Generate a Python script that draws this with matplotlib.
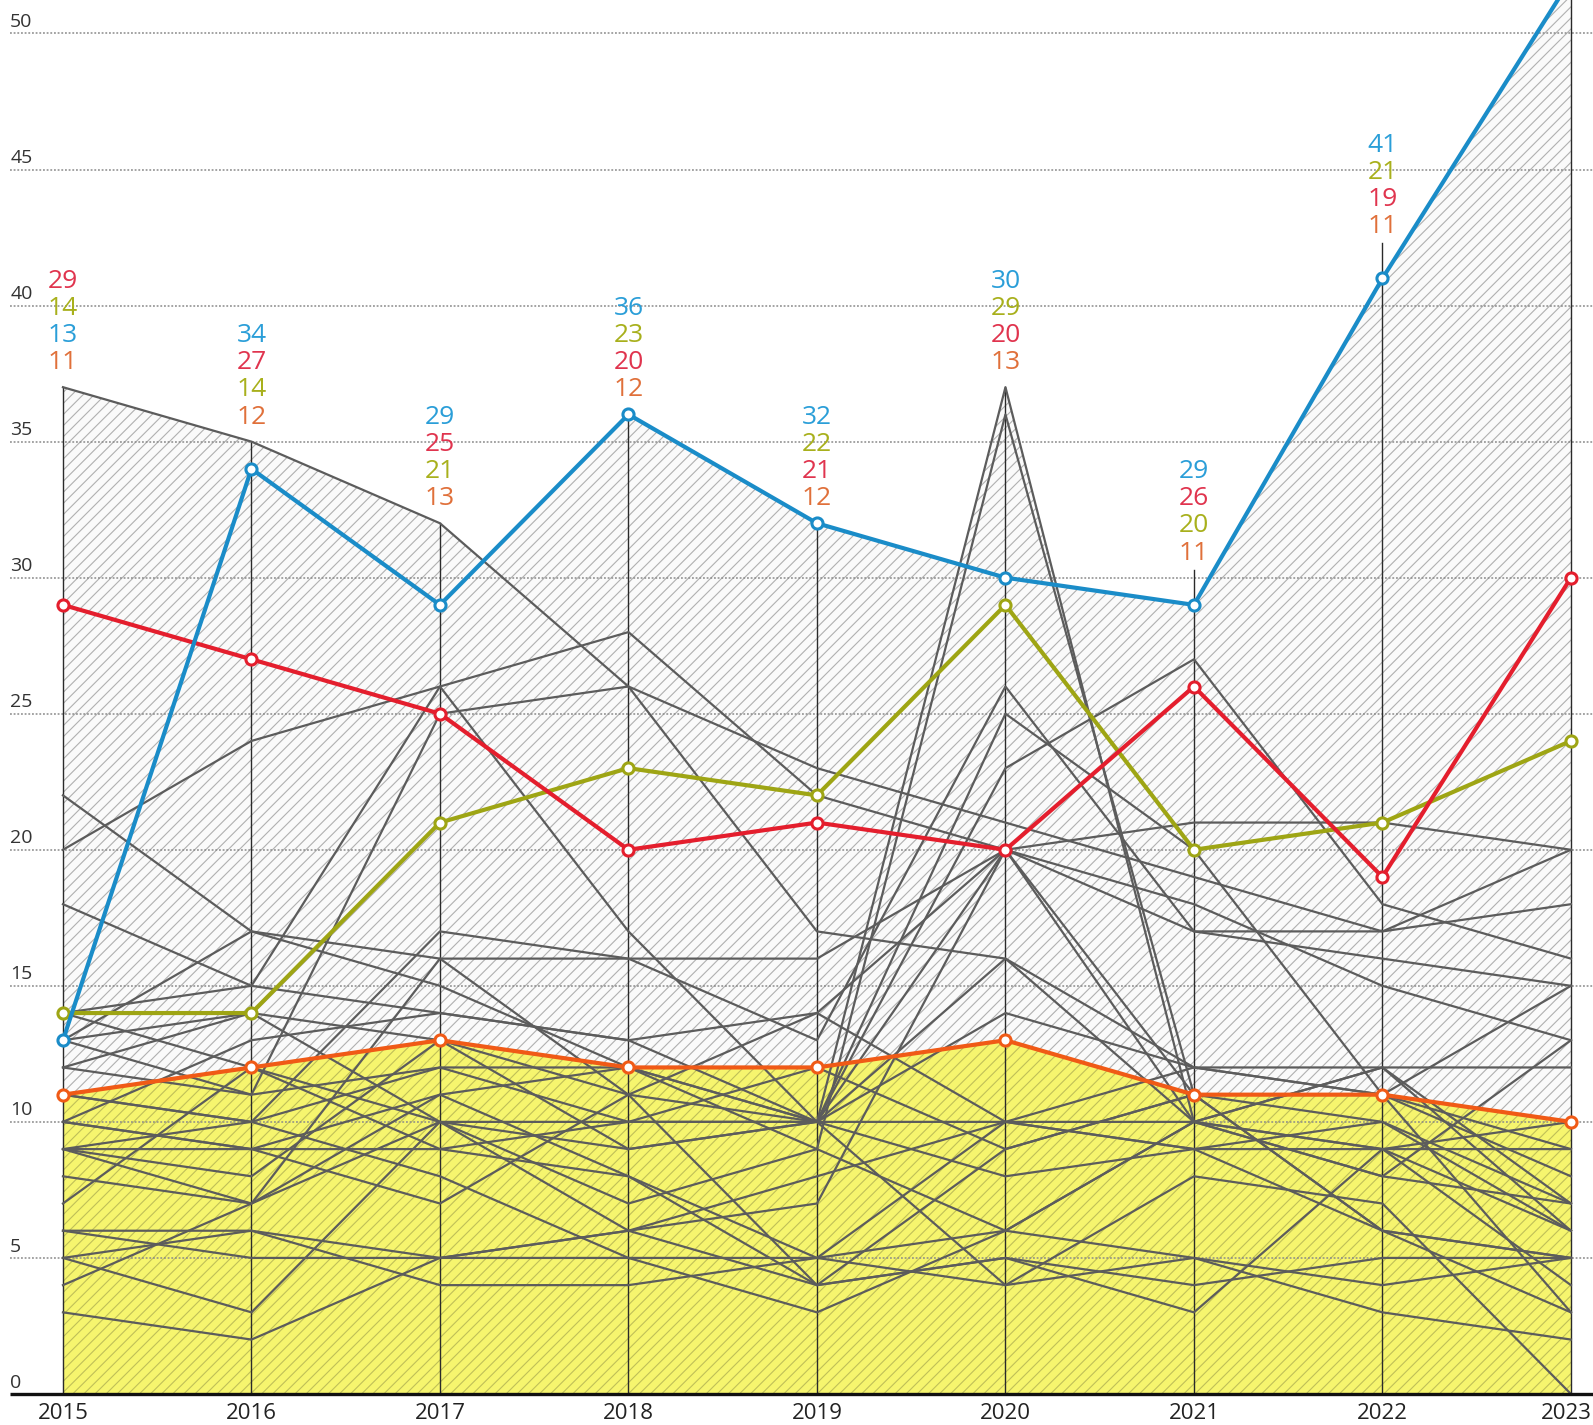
import numpy as np
import matplotlib
matplotlib.use("Agg")
import matplotlib.pyplot as plt

plt.rcParams['font.family'] = ['Open Sans', 'DejaVu Sans']
plt.rcParams['hatch.linewidth'] = 0.8

years = [2015, 2016, 2017, 2018, 2019, 2020, 2021, 2022, 2023]

# highlighted series
blue = [13, 34, 29, 36, 32, 30, 29, 41, 52]
red = [29, 27, 25, 20, 21, 20, 26, 19, 30]
olive = [14, 14, 21, 23, 22, 29, 20, 21, 24]
orange = [11, 12, 13, 12, 12, 13, 11, 11, 10]

# background (grey) series
grey = [
    [37, 35, 32, 26, 17, 16, 12, 11, 9],
    [22, 17, 16, 16, 16, 20, 17, 16, 15],
    [20, 24, 26, 28, 22, 20, 18, 15, 13],
    [18, 15, 14, 13, 14, 20, 21, 21, 20],
    [14, 15, 26, 17, 10, 37, 10, 12, 6],
    [13, 17, 15, 12, 9, 36, 11, 6, 5],
    [13, 11, 25, 26, 23, 21, 19, 17, 18],
    [12, 14, 13, 11, 10, 23, 27, 18, 16],
    [11, 10, 17, 16, 13, 26, 17, 17, 20],
    [10, 9, 11, 12, 10, 10, 10, 9, 10],
    [10, 13, 14, 13, 10, 16, 10, 12, 12],
    [9, 9, 9, 10, 10, 14, 12, 12, 7],
    [9, 8, 13, 9, 10, 25, 20, 11, 8],
    [8, 7, 10, 9, 10, 8, 9, 10, 6],
    [7, 12, 10, 7, 9, 6, 10, 8, 7],
    [6, 6, 4, 4, 5, 4, 5, 3, 2],
    [5, 6, 5, 6, 4, 5, 3, 9, 4],
    [4, 7, 11, 8, 5, 10, 9, 6, 3],
    [3, 2, 5, 5, 3, 6, 5, 4, 5],
    [5, 3, 10, 10, 10, 4, 8, 7, 0],
    [10, 9, 7, 11, 14, 10, 9, 9, 9],
    [12, 11, 12, 12, 10, 20, 10, 8, 13],
    [11, 10, 12, 10, 12, 9, 11, 10, 7],
    [9, 7, 16, 11, 4, 5, 4, 5, 5],
    [13, 14, 10, 6, 7, 20, 11, 6, 5],
    [9, 10, 8, 5, 5, 6, 10, 9, 6],
    [14, 12, 9, 8, 4, 9, 11, 11, 3],
    [6, 5, 5, 6, 8, 10, 12, 11, 15],
]

yticks = [0, 5, 10, 15, 20, 25, 30, 35, 40, 45, 50]

# layout: where the value stacks and year lines stop
label_base = [37.9, 35.9, 32.9, 36.9, 32.9, 37.9, 30.9, 42.9]
vline_top = [37, 35, 32, 36, 32, 37, 30.3, 42.3, 60]

c_blue, c_red, c_olive, c_orange = '#1a8cc8', '#e41e2d', '#9ea514', '#f05a16'
t_blue, t_red, t_olive, t_orange = '#2a9ed8', '#e0344e', '#a8b01c', '#e0703a'

fig = plt.figure(figsize=(15.93, 14.25), dpi=100)
ax = fig.add_axes([0, 0, 1, 1])
ax.set_xlim(2014.666, 2023.117)
ax.set_ylim(-1.14, 51.23)
ax.axis('off')

highlighted = [blue, red, olive, orange]
everything = grey + highlighted

# upper envelope of all lines, hatched grey
xs = np.linspace(years[0], years[-1], 3000)
env = np.max([np.interp(xs, years, s) for s in everything], axis=0)
ax.fill_between(xs, 0, env, facecolor='#fafafa', edgecolor='#b0b0b0',
                hatch='///', linewidth=0, zorder=1)
# area under the orange line, yellow
ax.fill_between(years, 0, orange, facecolor='#f6f56e', edgecolor='#bfbf58',
                hatch='///', linewidth=0, zorder=2)

# dotted grid
for v in yticks[1:]:
    ax.axhline(v, xmin=10 / 1593, xmax=1, color='#8a8a8a', lw=1.1,
               ls=(0, (1.2, 1.2)), zorder=3)

# year lines
for yr, top in zip(years, vline_top):
    ax.plot([yr, yr], [0, top], color='#2a2a2a', lw=1.0, zorder=4)

for s in grey:
    ax.plot(years, s, color='#5c5c5c', lw=1.6, zorder=5)

for s, c in zip([orange, olive, red, blue], [c_orange, c_olive, c_red, c_blue]):
    ax.plot(years, s, color=c, lw=3.0, zorder=6, marker='o', markersize=8,
            markerfacecolor='white', markeredgecolor=c, markeredgewidth=2.2)

# x axis line
ax.plot([2014.72, 2023.117], [0, 0], color='#111111', lw=2.4, zorder=7,
        solid_capstyle='butt')

# y tick labels above the grid lines
for v in yticks:
    ax.text(2014.72, v + 0.42, str(v), ha='left', va='center', fontsize=14,
            color='#333333', zorder=8)

# year labels (last one kept inside the right edge)
for yr in years:
    if yr == years[-1]:
        ax.text(2023.11, -0.73, str(yr), ha='right', va='center', fontsize=16,
                color='#222222', family=['Liberation Sans Narrow', 'Open Sans'],
                zorder=8)
    else:
        ax.text(yr, -0.73, str(yr), ha='center', va='center', fontsize=16,
                color='#222222', family=['Liberation Sans Narrow', 'Open Sans'],
                zorder=8)

# value stacks above each year
for i, base in enumerate(label_base):
    vals = [(blue[i], t_blue), (red[i], t_red), (olive[i], t_olive),
            (orange[i], t_orange)]
    vals.sort(key=lambda p: -p[0])
    for k, (v, c) in enumerate(reversed(vals)):
        ax.text(years[i], base + k, str(v), ha='center', va='center',
                fontsize=19, color=c, zorder=9)

fig.savefig('out.png', dpi=100)
